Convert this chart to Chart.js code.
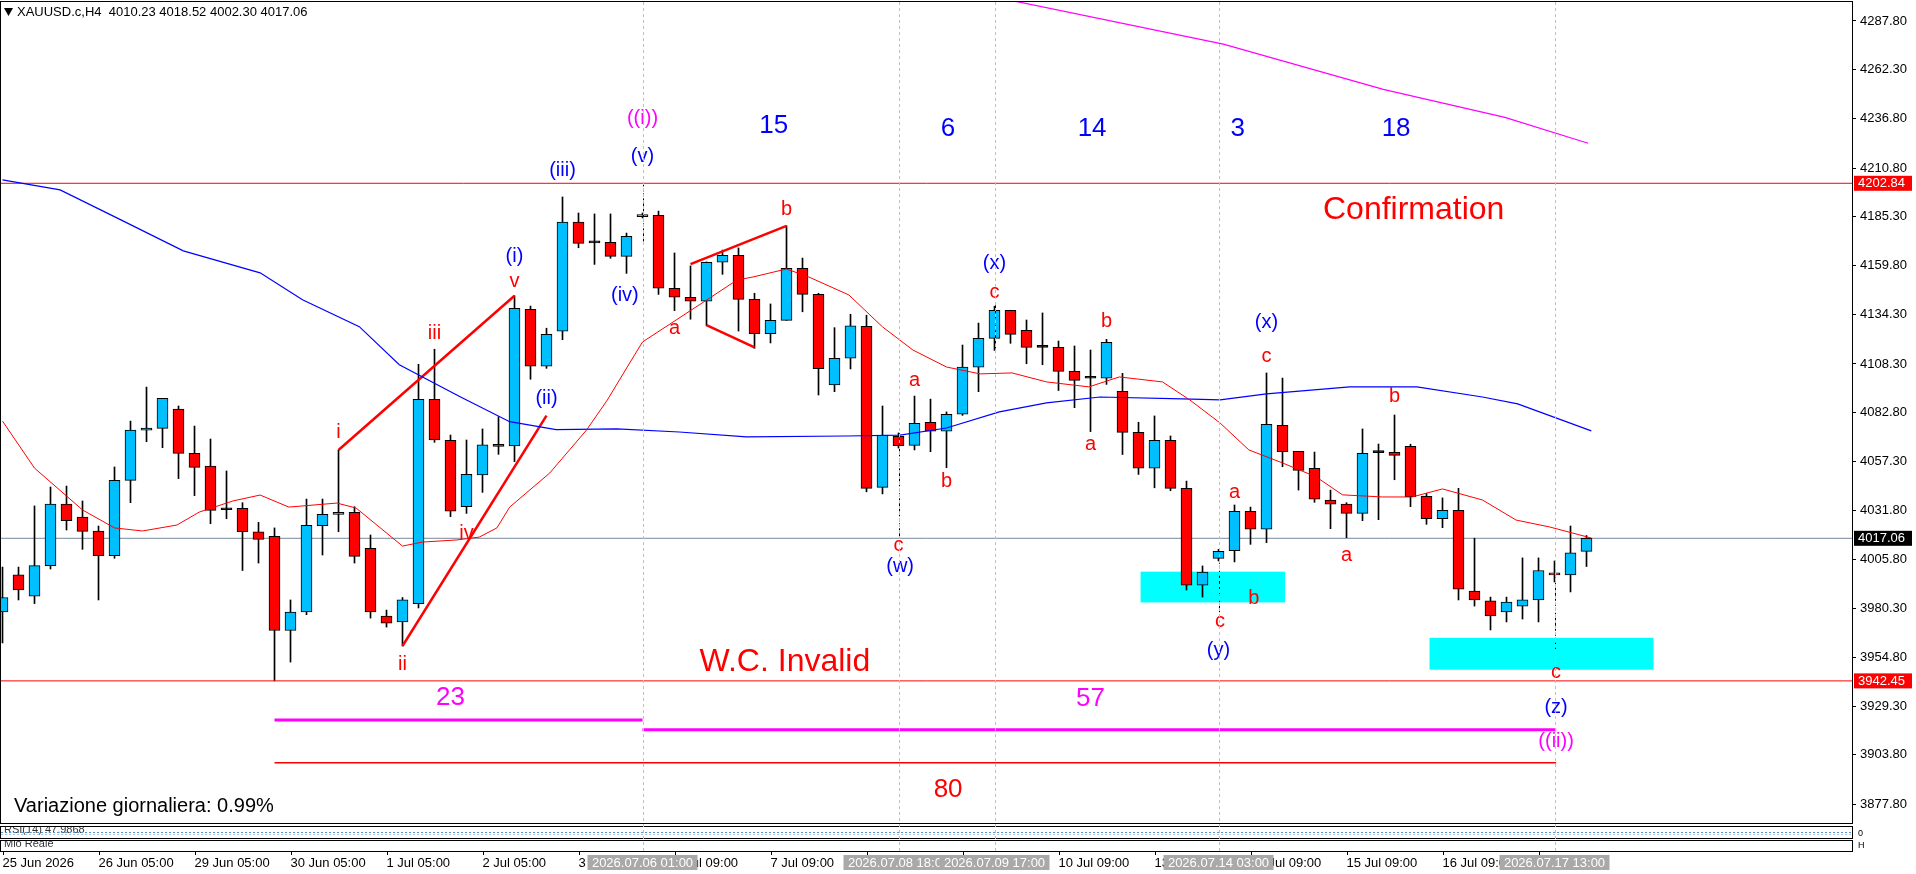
<!DOCTYPE html>
<html>
<head>
<meta charset="utf-8">
<script src="https://cdn.jsdelivr.net/npm/chart.js@4.4.1/dist/chart.umd.min.js"></script>
<style>
  html, body { margin: 0; padding: 0; background: #fff; }
  #wrap { width: 1916px; height: 874px; }
</style>
</head>
<body>
<div id="wrap"><canvas id="chart"></canvas></div>
<script>
// XAUUSD.c H4 candles, index 0 = 25 Jun 2026
const opens = [3978.5,3997.9,3986.8,4002.8,4035.0,4028.2,4020.9,4008.0,4047.4,4073.6,
  4074.6,4084.7,4061.5,4054.9,4032.0,4032.8,4020.5,4018.1,3968.8,3978.5,
  4023.7,4029.6,4030.7,4011.8,3976.4,3973.3,3982.9,4089.8,4068.3,4033.6,
  4050.2,4066.3,4065.4,4136.9,4107.1,4125.4,4182.6,4171.7,4172.0,4164.6,
  4185.4,4186.1,4147.9,4143.2,4141.1,4161.5,4165.2,4142.1,4124.1,4131.1,
  4158.4,4144.7,4097.3,4111.3,4128.0,4043.7,4070.4,4065.7,4077.8,4073.1,
  4082.0,4106.6,4121.7,4136.4,4125.9,4117.0,4117.0,4104.4,4100.8,4100.8,
  4094.0,4072.5,4053.7,4068.3,4043.2,3992.6,4006.6,4010.6,4031.2,4021.8,
  4076.2,4062.6,4053.7,4037.1,4035.0,4030.1,4061.9,4062.1,4065.2,4039.0,
  4027.3,4031.7,3989.5,3984.3,3978.5,3981.6,3984.8,3998.9,3997.9,4010.23];
const highs = [4002.0,4002.0,4034.0,4043.9,4044.4,4036.6,4023.5,4054.4,4078.4,4096.2,
  4090.3,4086.3,4075.8,4069.0,4052.3,4035.7,4025.4,4022.5,3984.8,4037.6,
  4037.6,4063.3,4033.6,4018.8,3979.5,3986.1,4108.1,4116.0,4071.1,4068.5,
  4074.3,4080.7,4144.0,4138.6,4127.0,4195.7,4187.3,4186.8,4186.8,4176.8,
  4187.3,4188.3,4166.4,4159.6,4161.7,4167.9,4169.0,4145.3,4139.7,4180.6,
  4163.7,4145.3,4127.3,4134.3,4133.8,4086.3,4072.2,4091.5,4089.9,4083.2,
  4118.2,4129.7,4138.5,4136.4,4131.3,4135.0,4120.3,4117.7,4115.6,4121.2,
  4103.4,4077.8,4081.1,4070.6,4047.0,4002.6,4011.3,4034.5,4033.4,4103.6,
  4100.9,4062.6,4062.2,4042.3,4035.7,4074.3,4066.4,4081.6,4066.3,4040.6,
  4038.2,4043.2,4017.1,3986.3,3986.3,4006.8,4006.8,4005.2,4023.5,4018.52];
const lows = [3962.3,3984.8,3982.9,4001.0,4021.4,4011.3,3984.8,4006.6,4035.7,4067.6,
  4064.5,4048.3,4039.4,4024.7,4027.3,4000.2,4004.1,3942.45,3952.3,3977.1,
  4008.3,4020.5,4004.1,3975.3,3970.6,3960.7,3980.6,4067.3,4028.4,4030.1,
  4041.1,4061.0,4057.2,4100.3,4106.0,4121.0,4169.1,4160.4,4163.6,4155.7,
  4184.7,4144.7,4136.2,4131.7,4128.3,4155.2,4125.5,4116.5,4119.3,4131.1,
  4135.6,4092.05,4093.8,4105.7,4041.4,4040.3,4064.3,4063.3,4062.4,4054.0,
  4081.4,4093.8,4115.4,4119.1,4108.4,4107.9,4094.4,4085.4,4072.9,4097.6,
  4060.9,4050.5,4043.5,4042.0,3990.0,3986.3,4005.2,4004.7,4013.9,4014.8,
  4054.5,4042.3,4035.9,4022.1,4017.4,4026.3,4026.8,4047.7,4033.6,4024.4,
  4022.6,3984.8,3981.6,3969.1,3973.3,3974.8,3973.3,3994.2,3989.0,4002.30];
const closes = [3986.1,3990.0,4002.8,4035.0,4026.3,4020.7,4008.0,4047.4,4073.7,4074.8,
  4090.3,4061.5,4054.2,4031.7,4032.0,4020.5,4016.5,3968.8,3978.5,4023.9,
  4029.6,4030.7,4007.6,3978.5,3972.7,3984.8,4089.8,4068.5,4031.3,4050.6,
  4066.0,4065.2,4137.4,4107.1,4123.8,4182.6,4171.4,4171.7,4164.6,4175.1,
  4186.4,4147.9,4143.2,4141.1,4161.5,4165.2,4142.1,4124.1,4131.1,4158.4,
  4144.7,4105.8,4111.3,4128.2,4043.2,4070.9,4065.5,4077.2,4073.1,4082.0,
  4106.6,4121.7,4136.4,4123.8,4117.0,4117.0,4104.4,4099.7,4100.8,4119.6,
  4072.5,4053.7,4068.3,4043.2,3992.6,3999.4,4010.3,4031.2,4021.8,4076.7,
  4062.4,4052.6,4037.5,4034.9,4030.1,4061.5,4061.9,4060.5,4038.8,4027.3,
  4031.7,3990.5,3984.8,3976.4,3983.7,3984.8,4000.2,3997.9,4009.4,4017.06];

// moving averages (candle index, price)
const fastMaX = [0,2,5,7,8.75,10.9,12.3,14.4,16.1,17.9,20.9,22.1,25,26.25,28.4,29.8,30.9,31.7,34.2,36.5,
  37.8,39.2,40,42.1,44.2,45.9,46.9,49,50.4,52.9,55,56.9,59,61.1,63.1,65.25,67.9,69.8,72.5,74.2,
  76.1,77.9,80,82.1,83.75,86.25,88.1,90,92.5,94.6,96.7,99.3];
const fastMaY = [4078.4,4053.8,4031.9,4022.5,4020.9,4024.0,4030.8,4036.6,4039.7,4033.4,4035.5,4032.9,4013.0,4015.1,4016.2,4017.7,4022.5,4033.4,4051.2,4073.7,
  4089.4,4108.8,4119.8,4131.3,4142.8,4152.2,4153.8,4158.0,4153.8,4144.4,4127.7,4115.6,4106.7,4103.1,4103.6,4098.9,4096.3,4101.5,4098.9,4089.5,
  4077.4,4063.3,4056.5,4049.2,4039.8,4038.7,4038.7,4042.9,4037.1,4026.6,4023.0,4017.2];
const slowMaX = [0,3.6,7.4,11.3,16.1,18.75,22.3,24.8,28.6,31.7,34.6,38.4,42.3,46.5,52.75,56.1,59,62.3,65.25,68.6,73.75,76.1,79,84.2,88.4,92.5,94.7,99.3];
const slowMaY = [4204.6,4199.4,4183.7,4167.5,4156.0,4141.9,4127.8,4107.9,4091.1,4078.1,4073.9,4074.3,4072.7,4070.1,4070.6,4071.1,4074.8,4083.2,4087.9,4091.0,4090.0,4089.5,4092.6,4096.3,4096.3,4091.0,4087.4,4073.3];
const longMaX = [61.8,63.3,76.3,86.3,93.9,99.1];
const longMaY = [4300.7,4298.1,4275.7,4252.0,4237.3,4223.8];

// axis ticks
const yTickVals = [4287.80,4262.30,4236.80,4210.80,4185.30,4159.80,4134.30,4108.30,4082.80,4057.30,4031.80,4005.80,3980.30,3954.80,3929.30,3903.80,3877.80];
const xTickIdx = [0,6,12,18,24,30,36,42,48,54,60,66,72,78,84,90,96];
const xTickText = ['25 Jun 2026','26 Jun 05:00','29 Jun 05:00','30 Jun 05:00','1 Jul 05:00','2 Jul 05:00','3 Jul 05:00','6 Jul 09:00','7 Jul 09:00','8 Jul 09:00','9 Jul 09:00','10 Jul 09:00','13 Jul 09:00','14 Jul 09:00','15 Jul 09:00','16 Jul 09:00','17 Jul 09:00'];

// levels
const confirmLevel = 4202.84;
const invalidLevel = 3942.45;
const lastPrice = 4017.06;

// trend lines [x1, p1, x2, p2]
const trendLines = [[21, 4063.3, 32, 4144.0], [25, 3960.7, 34, 4081.3], [43, 4160.5, 49, 4180.6], [44, 4128.6, 47, 4117.0]];
// count segments at the bottom
const count23 = [17, 40, 3922.0];
const count57 = [40, 97.1, 3916.9];
const count80 = [17, 97.1, 3899.6];
// target zones [x1, x2, pTop, pBottom]
const zones = [[71.13, 80.16, 3999.6, 3983.5], [89.19, 103.19, 3965.0, 3948.3]];
// vertical time lines
const vLineIdx = [40, 56, 62, 76, 97];
const vLineText = ['2026.07.06 01:00', '2026.07.08 18:00', '2026.07.09 17:00', '2026.07.14 03:00', '2026.07.17 13:00'];
// dashed wave markers [x, pTop, pBottom]
const markers = [[40, 4202.8, 4171.3], [56, 4072.0, 4018.0], [62, 4139.0, 4115.6], [76, 4005.3, 3978.4], [97, 3996.4, 3959.2]];

// wave labels [text, x, price]
const redLabels = [['i',21,4072.5],['iii',27,4124.3],['v',32,4151.3],['ii',25,3950.8],['iv',29,4019.7],['a',42,4126.9],['b',49,4189.2],
  ['a',57,4099.5],['b',59,4046.7],['c',56,4013.2],['c',62,4145.8],['b',69,4130.4],['a',68,4065.9],['c',79,4112.1],['a',77,4040.9],
  ['b',78.2,3985.5],['c',76.1,3973.3],['b',87,4091.2],['a',84,4008.3],['c',97.1,3947.0]];
const blueLabels = [['(i)',32,4164.4],['(ii)',34,4090.3],['(iii)',35,4209.8],['(iv)',38.9,4144.2],['(v)',40,4216.8],['(w)',56.1,4002.1],
  ['(x)',62,4161.0],['(x)',79,4129.9],['(y)',76,3958.6],['(z)',97.1,3928.4]];
const pinkLabels = [['((i))',40,4236.6],['((ii))',97.1,3910.5]];
const blueCounts = [['15',48.2,4232.8],['6',59.1,4231.5],['14',68.1,4231.5],['3',77.2,4231.5],['18',87.1,4231.5]];
const pinkCounts = [['23',28,3933.5],['57',68,3933.3]];
const redBigText = [['W.C. Invalid',48.9,3952.0],['Confirmation',88.2,4188.6]];
const redCounts = [['80',59.1,3885.5]];

const FONT = '"Liberation Sans", Arial, sans-serif';

function pts(xs, ys) { return xs.map((v, i) => ({ x: v, y: ys[i] })); }
function seg(x1, p1, x2, p2) { return [{ x: x1, y: p1 }, { x: x2, y: p2 }]; }

const wickData = lows.map((l, i) => ({ x: i, y: [l, highs[i]] }));
const bodyData = opens.map((o, i) => ({ x: i, y: [o, closes[i]] }));

function bodyColor(c) {
    const i = c.dataIndex;
    if (closes[i] > opens[i]) return '#00bfff';
    if (closes[i] < opens[i]) return '#ff0000';
    return '#000000';
}

function lineSet(data, color, width, order) {
    return { type: 'line', data: data, borderColor: color, borderWidth: width, pointRadius: 0, fill: false, tension: 0, order: order };
}

const xMin = -0.09375, xMax = 115.59375;

// extra drawing: zones, time lines, labels, price boxes, sub windows
const overlay = {
    id: 'overlay',
    beforeDatasetsDraw(chart) {
        const { ctx, scales: { x, y } } = chart;
        ctx.save();
        ctx.fillStyle = '#00ffff';
        zones.forEach(z => {
            const x1 = x.getPixelForValue(z[0]), x2 = x.getPixelForValue(z[1]);
            const y1 = y.getPixelForValue(z[2]), y2 = y.getPixelForValue(z[3]);
            ctx.fillRect(x1, y1, x2 - x1, y2 - y1);
        });
        ctx.restore();
    },
    afterDatasetsDraw(chart) {
        const { ctx, scales: { x, y } } = chart;
        ctx.save();
        // dashed wave markers
        ctx.strokeStyle = '#000';
        ctx.lineWidth = 1;
        ctx.setLineDash([3, 2]);
        markers.forEach(m => {
            const px = Math.round(x.getPixelForValue(m[0])) + 0.5;
            ctx.beginPath();
            ctx.moveTo(px, y.getPixelForValue(m[1]));
            ctx.lineTo(px, y.getPixelForValue(m[2]));
            ctx.stroke();
        });
        ctx.setLineDash([]);
        ctx.textAlign = 'center';
        ctx.textBaseline = 'middle';
        const put = (list, color, size) => {
            ctx.fillStyle = color;
            ctx.font = size + 'px ' + FONT;
            list.forEach(l => ctx.fillText(l[0], x.getPixelForValue(l[1]), y.getPixelForValue(l[2])));
        };
        put(redLabels, '#ff0000', 20);
        put(blueLabels, '#0000ff', 20);
        put(pinkLabels, '#ff00ff', 20);
        put(blueCounts, '#0000ff', 26);
        put(pinkCounts, '#ff00ff', 26);
        put(redCounts, '#ff0000', 26);
        put(redBigText, '#ff0000', 32);
        ctx.restore();
    },
    afterDraw(chart) {
        const { ctx, chartArea: a, scales: { x, y } } = chart;
        ctx.save();
        // main window frame
        ctx.strokeStyle = '#000';
        ctx.lineWidth = 1;
        ctx.strokeRect(a.left - 0.5, a.top - 0.5, a.right - a.left + 1, a.bottom - a.top + 1);
        // sub windows (RSI, Mio Reale)
        const subs = [[826, 838, 'RSI(14) 47.9868'], [840, 851, 'Mio Reale']];
        subs.forEach(s => {
            ctx.strokeStyle = '#000';
            ctx.strokeRect(a.left - 0.5, s[0] + 0.5, a.right - a.left + 1, s[1] - s[0]);
            ctx.save();
            ctx.beginPath();
            ctx.rect(a.left, s[0] + 1, a.right - a.left, s[1] - s[0] - 1);
            ctx.clip();
            ctx.fillStyle = '#333';
            ctx.font = '11px ' + FONT;
            ctx.textAlign = 'left';
            ctx.textBaseline = 'middle';
            ctx.fillText(s[2], 4, s[0] + 4);
            ctx.restore();
        });
        ctx.strokeStyle = '#5a8fd0';
        ctx.setLineDash([2, 2]);
        ctx.beginPath();
        ctx.moveTo(a.left, 832.5);
        ctx.lineTo(a.right, 832.5);
        ctx.stroke();
        ctx.strokeStyle = '#b0c4de';
        ctx.beginPath();
        ctx.moveTo(a.left, 834.5);
        ctx.lineTo(a.right, 834.5);
        ctx.stroke();
        ctx.setLineDash([]);
        ctx.fillStyle = '#000';
        ctx.font = '9px ' + FONT;
        ctx.textAlign = 'left';
        ctx.textBaseline = 'middle';
        ctx.fillText('0', a.right + 6, 834);
        ctx.fillText('H', a.right + 6, 846);
        // x tick marks
        ctx.strokeStyle = '#000';
        xTickIdx.forEach(t => {
            const px = Math.round(x.getPixelForValue(t)) + 0.5;
            ctx.beginPath();
            ctx.moveTo(px, 851);
            ctx.lineTo(px, 855);
            ctx.stroke();
        });
        // vertical time lines
        ctx.strokeStyle = '#c0c0c0';
        ctx.setLineDash([3, 3]);
        vLineIdx.forEach(v => {
            const px = Math.round(x.getPixelForValue(v)) + 0.5;
            ctx.beginPath();
            ctx.moveTo(px, a.top);
            ctx.lineTo(px, 851);
            ctx.stroke();
        });
        ctx.setLineDash([]);
        // time boxes on the time axis
        ctx.font = '13px ' + FONT;
        ctx.textAlign = 'center';
        ctx.textBaseline = 'middle';
        vLineIdx.forEach((v, i) => {
            const px = x.getPixelForValue(v);
            ctx.fillStyle = '#a9a9a9';
            ctx.fillRect(px - 55, 855, 110, 15);
            ctx.fillStyle = '#fff';
            ctx.fillText(vLineText[i], px, 863);
        });
        // price boxes on the price axis
        const boxes = [[confirmLevel, '#ff0000'], [lastPrice, '#000000'], [invalidLevel, '#ff0000']];
        ctx.textAlign = 'left';
        boxes.forEach(b => {
            const py = y.getPixelForValue(b[0]);
            ctx.fillStyle = b[1];
            ctx.fillRect(a.right + 2, py - 7.5, 58, 15);
            ctx.fillStyle = '#fff';
            ctx.fillText(b[0].toFixed(2), a.right + 6, py + 0.5);
        });
        // header
        ctx.fillStyle = '#000';
        ctx.beginPath();
        ctx.moveTo(4, 8); ctx.lineTo(13, 8); ctx.lineTo(8.5, 16); ctx.closePath();
        ctx.fill();
        ctx.font = '13px ' + FONT;
        ctx.textBaseline = 'middle';
        ctx.fillText('XAUUSD.c,H4  4010.23 4018.52 4002.30 4017.06', 17, 12);
        ctx.font = '20px ' + FONT;
        ctx.fillText('Variazione giornaliera: 0.99%', 14, 806);
        ctx.restore();
    }
};

const ctx = document.getElementById('chart').getContext('2d');
const myChart = new Chart(ctx, {
    type: 'bar',
    data: {
        datasets: [
            lineSet(pts(fastMaX, fastMaY), '#ff0000', 1, 0),
            lineSet(pts(slowMaX, slowMaY), '#0000ff', 1.2, 0),
            lineSet(pts(longMaX, longMaY), '#ff00ff', 1.2, 0),
            lineSet(seg(xMin, confirmLevel, xMax, confirmLevel), '#ff0000', 1, 0),
            lineSet(seg(xMin, invalidLevel, xMax, invalidLevel), '#ff0000', 1, 0),
            lineSet(seg(xMin, lastPrice, xMax, lastPrice), '#778899', 1, 3),
            ...trendLines.map(t => lineSet(seg(t[0], t[1], t[2], t[3]), '#ff0000', 2.5, 0)),
            lineSet(seg(count23[0], count23[2], count23[1], count23[2]), '#ff00ff', 3, 0),
            lineSet(seg(count57[0], count57[2], count57[1], count57[2]), '#ff00ff', 3, 0),
            lineSet(seg(count80[0], count80[2], count80[1], count80[2]), '#ff0000', 1.5, 0),
            {
                type: 'bar', data: bodyData, backgroundColor: bodyColor, borderColor: '#000',
                borderWidth: 1, borderSkipped: false, barThickness: 11, minBarLength: 2,
                grouped: false, order: 1
            },
            {
                type: 'bar', data: wickData, backgroundColor: '#000', borderWidth: 0,
                barThickness: 1, grouped: false, order: 2
            }
        ]
    },
    options: {
        responsive: true,
        maintainAspectRatio: false,
        animation: false,
        layout: { padding: { left: 1, top: 2, right: 0, bottom: 0 } },
        plugins: { legend: { display: false }, tooltip: { enabled: false } },
        scales: {
            x: {
                type: 'linear', min: xMin, max: xMax, offset: false,
                grid: { display: false, drawTicks: false },
                border: { display: true, color: '#000' },
                afterBuildTicks: s => { s.ticks = xTickIdx.map(v => ({ value: v })); },
                afterFit: s => { s.height = 51; s.paddingLeft = 0; s.paddingRight = 0; },
                ticks: {
                    autoSkip: false, maxRotation: 0, minRotation: 0, align: 'start', padding: 33,
                    color: '#000', font: { family: FONT, size: 13 },
                    callback: v => xTickText[xTickIdx.indexOf(v)]
                }
            },
            y: {
                position: 'right', min: 3868.08, max: 4297.71,
                grid: { drawOnChartArea: false, drawTicks: true, tickLength: 4, color: '#000' },
                border: { display: true, color: '#000' },
                afterBuildTicks: s => { s.ticks = yTickVals.map(v => ({ value: v })); },
                afterFit: s => { s.width = 64; s.paddingTop = 0; s.paddingBottom = 0; },
                ticks: {
                    padding: 4, color: '#000', font: { family: FONT, size: 13 },
                    callback: v => v.toFixed(2)
                }
            }
        }
    },
    plugins: [overlay]
});
</script>
</body>
</html>
